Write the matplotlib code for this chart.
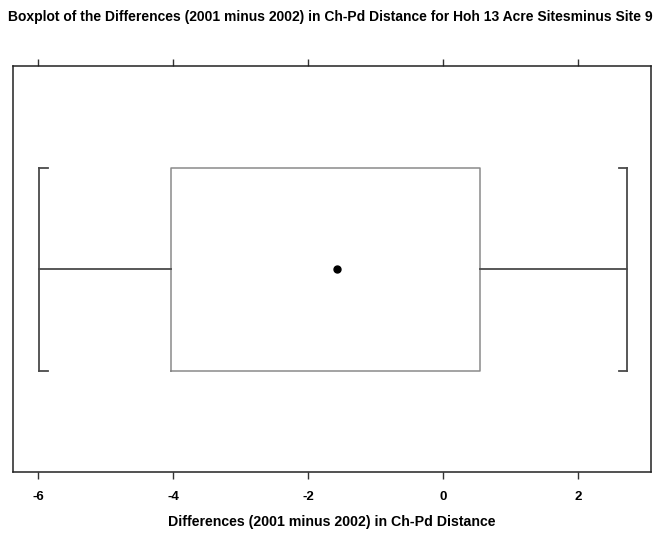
import numpy as np
import matplotlib.pyplot as plt

plt.rcParams['font.family'] = ['Liberation Sans', 'DejaVu Sans']

# summary of the 2001 - 2002 differences
whisker_low = -5.98
q1 = -4.03
median = -1.57
q3 = 0.55
whisker_high = 2.73
xticks = [-6, -4, -2, 0, 2]

stats = [dict(med=median, q1=q1, q3=q3, whislo=whisker_low, whishi=whisker_high, fliers=[])]

fig = plt.figure(figsize=(6.61, 5.33), dpi=100)
ax = fig.add_axes([0.0197, 0.1144, 0.9653, 0.7616])

ax.bxp(stats, positions=[1.0], widths=1.0, capwidths=1.0, orientation='horizontal',
       showfliers=False,
       boxprops=dict(color='#8a8a8a', lw=1.1),
       whiskerprops=dict(color='#4a4a4a', lw=1.3),
       capprops=dict(color='#4a4a4a', lw=1.3),
       medianprops=dict(linestyle='none'))

# median as a dot
ax.plot([median], [1.0], 'o', color='black', ms=5)

# bracket serifs on the whisker caps
serif = 0.13
for x, d in [(whisker_low, serif), (whisker_high, -serif)]:
    for y in (0.5, 1.5):
        ax.plot([x, x + d], [y, y], color='#4a4a4a', lw=1.3)

ax.set_xlim(-6.37, 3.08)
ax.set_ylim(0.0, 2.0)
ax.set_yticks([])
ax.set_xticks(xticks)
ax.set_xticklabels([str(t) for t in xticks], fontweight='bold', fontsize=9.5)
ax.tick_params(axis='x', top=True, direction='out', length=5, width=1, pad=9, color='#333333')
for s in ax.spines.values():
    s.set_color('#222222')
    s.set_linewidth(1.1)

ax.set_xlabel('Differences (2001 minus 2002) in Ch-Pd Distance', fontweight='bold', fontsize=10.2, labelpad=8)
fig.text(0.012, 0.968, 'Boxplot of the Differences (2001 minus 2002) in Ch-Pd Distance for Hoh 13 Acre Sitesminus Site 9',
         fontweight='bold', fontsize=10.0, ha='left', va='center')

fig.savefig('out.png', dpi=100)
